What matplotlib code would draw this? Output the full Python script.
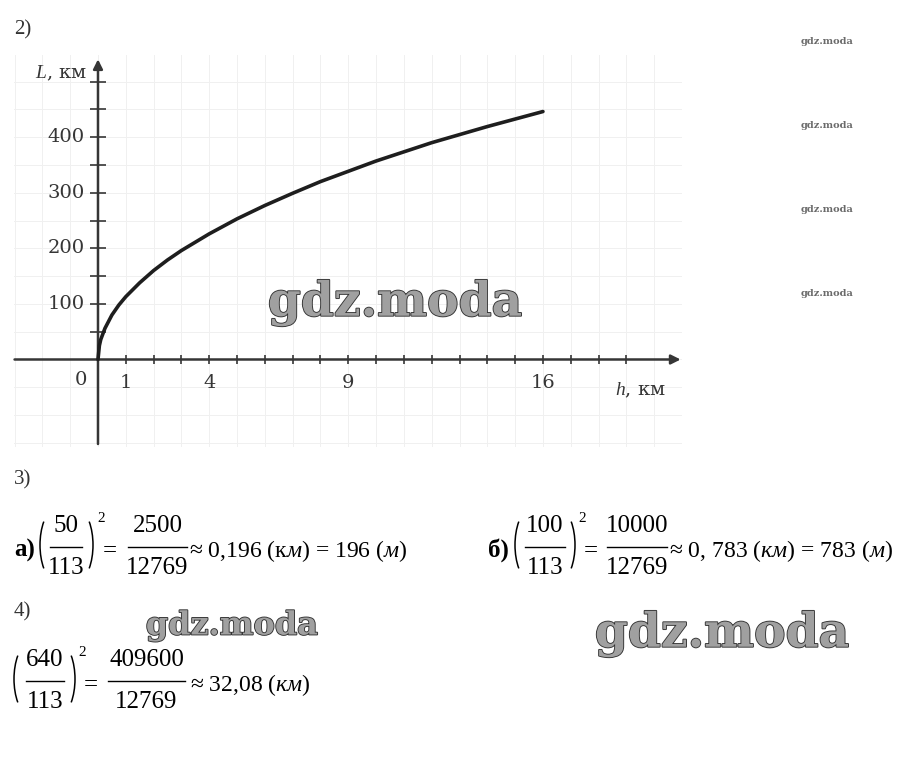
import matplotlib
matplotlib.use('Agg')
import matplotlib.pyplot as plt
import matplotlib.patheffects as pe
from matplotlib.patches import Arc

plt.rcParams['mathtext.fontset'] = 'custom'
plt.rcParams['mathtext.rm'] = 'Liberation Serif'
plt.rcParams['mathtext.it'] = 'Liberation Serif:italic'
plt.rcParams['mathtext.bf'] = 'Liberation Serif:bold'
plt.rcParams['font.family'] = ['Liberation Serif', 'DejaVu Serif']

# ---- data ----
h_km = [0, 0.05, 0.1, 0.25, 0.5, 0.75, 1, 1.5, 2, 2.5, 3, 4, 5, 6, 7, 8, 10, 12, 14, 16]
L_km = [0, 25, 36, 56, 80, 98, 113, 138, 160, 179, 196, 226, 253, 277, 299, 320,
        357, 390, 419, 446]
x_ticks = list(range(1, 20))
x_labels = {1: '1', 4: '4', 9: '9', 16: '16'}
y_ticks = list(range(50, 501, 50))
y_labels = {100: '100', 200: '200', 300: '300', 400: '400'}

W, H = 900, 758
fig = plt.figure(figsize=(W / 100, H / 100), dpi=100)
fig.patch.set_facecolor('white')

# ---------------- graph ----------------
left, right, top, bottom = 14, 682, 55, 447
ax = fig.add_axes([left / W, 1 - bottom / H, (right - left) / W, (bottom - top) / H])
ax.set_xlim(-3.02, 21.0)
ax.set_ylim(-157.4, 547.7)
ax.axis('off')

gc = '#363636'
for gx in range(-3, 21):
    ax.axvline(gx, color='#f0f0f0', lw=0.7, zorder=0)
for gy in range(-150, 550, 50):
    ax.axhline(gy, color='#f0f0f0', lw=0.7, zorder=0)

ax.annotate('', xy=(20.95, 0), xytext=(-3.0, 0),
            arrowprops=dict(arrowstyle='-|>', color=gc, lw=1.8, mutation_scale=14,
                            shrinkA=0, shrinkB=0))
ax.annotate('', xy=(0, 540), xytext=(0, -152),
            arrowprops=dict(arrowstyle='-|>', color=gc, lw=1.8, mutation_scale=14,
                            shrinkA=0, shrinkB=0))
ax.vlines(x_ticks, -8, 8, color=gc, lw=1.2)
ax.hlines(y_ticks, -0.28, 0.28, color=gc, lw=1.2)

ax.plot(h_km, L_km, color='#1e1e1e', lw=2.6, solid_capstyle='round', zorder=5)

tfs = 14
for v, s in y_labels.items():
    ax.text(-0.48, v, s, ha='right', va='center', fontsize=tfs, color=gc,
            family='DejaVu Serif')
for v, s in x_labels.items():
    ax.text(v, -43, s, ha='center', va='center', fontsize=tfs, color=gc,
            family='DejaVu Serif')
ax.text(-0.38, -36, '0', ha='right', va='center', fontsize=tfs, color=gc,
        family='DejaVu Serif')
ax.text(-0.4, 515, r'$L$, км', ha='right', va='center', fontsize=tfs, color=gc,
        family='DejaVu Serif')
ax.text(18.6, -55, r'$h$, км', ha='left', va='center', fontsize=tfs, color=gc,
        family='DejaVu Serif')

# ---------------- overlay in pixel coordinates ----------------
ov = fig.add_axes([0, 0, 1, 1])
ov.set_xlim(0, W)
ov.set_ylim(H, 0)
ov.axis('off')
ov.patch.set_visible(False)

ov.text(14, 30, '2)', ha='left', va='center', fontsize=15, color='#333')
ov.text(14, 480, '3)', ha='left', va='center', fontsize=15, color='#333')
ov.text(14, 612, '4)', ha='left', va='center', fontsize=15, color='#333')

efs = 18
tail_fs = 17

def paren(x_outer, yc, side):
    w, hgt, t = 36, 76, 58.8
    if side == 'l':
        a = Arc((x_outer + w / 2, yc), w, hgt, theta1=180 - t, theta2=180 + t,
                lw=1.1, color='black')
    else:
        a = Arc((x_outer - w / 2, yc), w, hgt, theta1=-t, theta2=t,
                lw=1.1, color='black')
    ov.add_patch(a)

def frac(xc, x0, x1, num, den, bar_y):
    ov.plot([x0, x1], [bar_y, bar_y], color='black', lw=1.0)
    ov.text(xc, bar_y - 15, num, ha='center', va='baseline', fontsize=efs)
    ov.text(xc, bar_y + 27, den, ha='center', va='baseline', fontsize=efs)

def equation(label, lab_x, pl, pr, f1, sup_x, eq_x, f2, tail_x, tail, bar_y):
    base = bar_y + 10
    if label:
        ov.text(lab_x, base, label, ha='left', va='baseline', fontsize=efs,
                weight='bold')
    paren(pl, bar_y - 2, 'l')
    paren(pr, bar_y - 2, 'r')
    frac(*f1, bar_y=bar_y)
    ov.text(sup_x, bar_y - 29, '2', ha='left', va='center', fontsize=11)
    ov.text(eq_x, base, '=', ha='left', va='baseline', fontsize=efs)
    frac(*f2, bar_y=bar_y)
    ov.text(tail_x, base, tail, ha='left', va='baseline', fontsize=tail_fs)

equation('а)', 14, 40, 93, (66, 50, 82, '50', '113'), 97, 103,
         (157.5, 128, 187, '2500', '12769'), 189,
         '≈ 0,196 (к$м$) = 196 ($м$)', 547)
equation('б)', 488, 515, 575, (545, 525, 565, '100', '113'), 578, 584,
         (637, 607, 667, '10000', '12769'), 669,
         '≈ 0, 783 ($км$) = 783 ($м$)', 547)
equation(None, 0, 14, 75, (45, 26, 64, '640', '113'), 78, 84,
         (146.5, 108, 185, '409600', '12769'), 190,
         '≈ 32,08 ($км$)', 681)

# watermarks
def wm(xc, yc, size):
    ov.text(xc, yc, 'gdz.moda', ha='center', va='center', fontsize=size,
            family='DejaVu Serif', weight='bold', color='#a0a0a0',
            path_effects=[pe.Stroke(linewidth=1.3, foreground='#333333'), pe.Normal()],
            zorder=10)

wm(395, 303, 34)
wm(232, 626, 23)
wm(722, 634, 34)
for yy in (42, 126, 210, 294):
    ov.text(827, yy, 'gdz.moda', ha='center', va='center', fontsize=7,
            family='DejaVu Serif', weight='bold', color='#6a6a6a')

fig.savefig('out.png', dpi=100, facecolor='white')
